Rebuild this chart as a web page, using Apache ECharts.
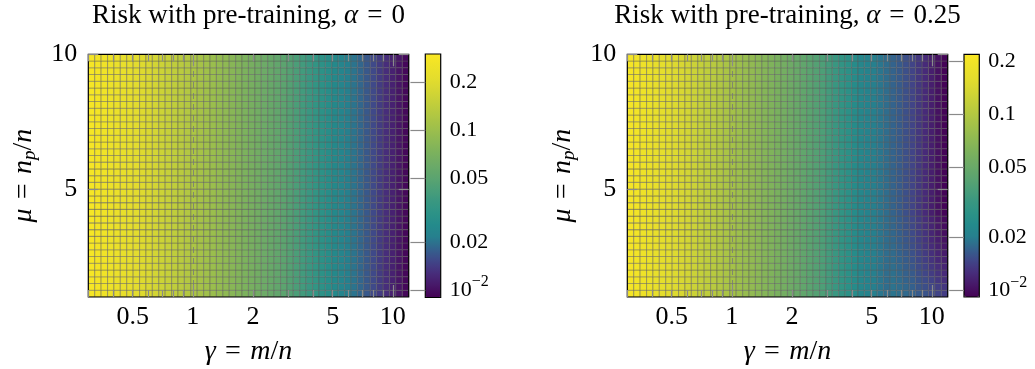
<!DOCTYPE html>
<html>
<head>
<meta charset="utf-8">
<script src="https://cdn.jsdelivr.net/npm/echarts@6/dist/echarts.min.js"></script>
<style>
  html, body { margin: 0; padding: 0; background: #fff; }
  #chart { width: 1035px; height: 369px; }
</style>
</head>
<body>
<div id="chart"></div>
<script>
// γ = m/n grid (log-spaced cell centres) and μ = n_p/n grid (cell centres)
const gammaValues = [0.3113, 0.3351, 0.3608, 0.3884, 0.4181, 0.4501, 0.4846, 0.5217, 0.5616, 0.6046,
  0.6509, 0.7007, 0.7544, 0.8121, 0.8743, 0.9413, 1.0133, 1.0909, 1.1745, 1.2644,
  1.3612, 1.4654, 1.5776, 1.6984, 1.8284, 1.9684, 2.1191, 2.2814, 2.4561, 2.6441,
  2.8466, 3.0645, 3.2992, 3.5518, 3.8237, 4.1165, 4.4317, 4.7710, 5.1363, 5.5296,
  5.9530, 6.4088, 6.8995, 7.4278, 7.9965, 8.6088, 9.2680, 9.9776, 10.742, 11.564];
const muValues = [1.125, 1.375, 1.625, 1.875, 2.125, 2.375, 2.625, 2.875, 3.125, 3.375,
  3.625, 3.875, 4.125, 4.375, 4.625, 4.875, 5.125, 5.375, 5.625, 5.875,
  6.125, 6.375, 6.625, 6.875, 7.125, 7.375, 7.625, 7.875, 8.125, 8.375,
  8.625, 8.875, 9.125, 9.375, 9.625, 9.875];

// Risk for α = 0, one value per γ column (identical for every μ row)
const riskAlpha0 = [0.285, 0.272, 0.260, 0.249, 0.238, 0.227, 0.217, 0.208, 0.198, 0.186,
  0.174, 0.163, 0.153, 0.143, 0.134, 0.126, 0.118, 0.111, 0.105, 0.0986,
  0.0929, 0.0875, 0.0824, 0.0776, 0.0731, 0.0689, 0.0649, 0.0611, 0.0576, 0.0542,
  0.0511, 0.0467, 0.0428, 0.0391, 0.0358, 0.0328, 0.0300, 0.0274, 0.0251, 0.0233,
  0.0217, 0.0201, 0.0185, 0.0170, 0.0155, 0.0141, 0.0128, 0.0116, 0.0105, 0.0095];

// Risk for α = 0.25, one value per γ column for the upper μ rows
const riskAlpha25 = [0.207, 0.197, 0.188, 0.179, 0.171, 0.163, 0.155, 0.148, 0.141, 0.133,
  0.125, 0.118, 0.111, 0.105, 0.0988, 0.0931, 0.0876, 0.0829, 0.0784, 0.0742,
  0.0702, 0.0664, 0.0628, 0.0594, 0.0562, 0.0527, 0.0495, 0.0464, 0.0435, 0.0409,
  0.0384, 0.0351, 0.0321, 0.0293, 0.0268, 0.0245, 0.0224, 0.0213, 0.0203, 0.0193,
  0.0183, 0.0174, 0.0165, 0.0156, 0.0146, 0.0135, 0.0124, 0.0113, 0.0103, 0.0094];

// α = 0.25: small-μ rows (μ = 1.125 … 3.875) where the large-γ risk rises; columns from index 41 on
const alpha25LowMuFirstColumn = 41;
const riskAlpha25LowMu = [
  [0.0191, 0.0185, 0.0179, 0.0174, 0.0166, 0.0159, 0.0152, 0.0146, 0.0139],
  [0.0189, 0.0183, 0.0177, 0.0171, 0.0162, 0.0155, 0.0148, 0.0141, 0.0134],
  [0.0187, 0.0181, 0.0174, 0.0168, 0.0159, 0.0152, 0.0144, 0.0135, 0.0128],
  [0.0186, 0.0179, 0.0172, 0.0165, 0.0156, 0.0148, 0.0139, 0.0131, 0.0124],
  [0.0184, 0.0177, 0.0169, 0.0162, 0.0152, 0.0144, 0.0135, 0.0127, 0.0119],
  [0.0182, 0.0175, 0.0167, 0.0159, 0.0150, 0.0141, 0.0131, 0.0122, 0.0115],
  [0.0181, 0.0173, 0.0165, 0.0157, 0.0148, 0.0138, 0.0128, 0.0119, 0.0111],
  [0.0180, 0.0172, 0.0163, 0.0155, 0.0145, 0.0135, 0.0125, 0.0116, 0.0107],
  [0.0178, 0.0170, 0.0162, 0.0153, 0.0143, 0.0133, 0.0122, 0.0113, 0.0104],
  [0.0177, 0.0169, 0.0160, 0.0151, 0.0141, 0.0131, 0.0120, 0.0110, 0.0101],
  [0.0176, 0.0168, 0.0159, 0.0150, 0.0139, 0.0129, 0.0119, 0.0109, 0.0100],
  [0.0176, 0.0167, 0.0158, 0.0149, 0.0138, 0.0127, 0.0117, 0.0107, 0.0098]
];

// Axis ticks and labels
const xTickLabels = [0.5, 1, 2, 5, 10];
const xMinorTicks = [0.3, 0.4, 0.5, 0.6, 0.7, 0.8, 0.9, 2, 3, 4, 5, 6, 7, 8, 9];
const xDecadeTicks = [1, 10];
const yTickLabels = [5, 10];
const colorbarTicks = [0.01, 0.02, 0.05, 0.1, 0.2];
const thresholdGamma = 1;

// Panel texts and colour ranges
const alphaLabels = ['0', '0.25'];
const colorbarRanges = [[0.009, 0.30], [0.0092, 0.22]];

// Colour map, bottom (low risk) to top (high risk)
const colormap = ['#440154', '#471868', '#472d7b', '#404688', '#33638d', '#26808e', '#248b8b',
  '#2d9386', '#3b9880', '#4d9f77', '#5ea56e', '#6eab66', '#7db25c', '#8fb953', '#a0c04a',
  '#b2c742', '#c3cf3a', '#d5d633', '#e4dd2d', '#eee228', '#fae724'];

const serif = '"Liberation Serif", "DejaVu Serif", serif';
const tickGrey = '#8a8a8a';
const tickFont = 26;
const eq = '\u2004=\u2004';

// cell boundaries from centres: geometric midpoints on the log axis, arithmetic on the linear one
function cellEdges(centres, geometric) {
  const n = centres.length;
  const mid = (a, b) => geometric ? Math.sqrt(a * b) : (a + b) / 2;
  const reflect = (c, m) => geometric ? c * c / m : 2 * c - m;
  const e = [];
  for (let i = 0; i <= n; i++) {
    if (i === 0) e.push(reflect(centres[0], mid(centres[0], centres[1])));
    else if (i === n) e.push(reflect(centres[n - 1], mid(centres[n - 2], centres[n - 1])));
    else e.push(mid(centres[i - 1], centres[i]));
  }
  return e;
}
const gammaEdges = cellEdges(gammaValues, true);
const muEdges = cellEdges(muValues, false);

function buildCells(riskAt) {
  const out = [];
  muValues.forEach((mu, r) => {
    gammaValues.forEach((g, c) => {
      const risk = riskAt(r, c);
      out.push([gammaEdges[c], gammaEdges[c + 1], muEdges[r], muEdges[r + 1], risk, Math.log10(risk)]);
    });
  });
  return out;
}
const cellsAlpha0 = buildCells((r, c) => riskAlpha0[c]);
const cellsAlpha25 = buildCells((r, c) => {
  const row = riskAlpha25LowMu[r];
  return (row && c >= alpha25LowMuFirstColumn) ? row[c - alpha25LowMuFirstColumn] : riskAlpha25[c];
});

// layout of the two panels (plot box and colour bar)
const panels = [
  { plot: { left: 88.3, top: 54.3, width: 320.4, height: 242.7 }, bar: { left: 425.3, top: 54, width: 15.4, height: 243.5 } },
  { plot: { left: 627.3, top: 54.3, width: 320.4, height: 242.7 }, bar: { left: 964, top: 54.3, width: 15.3, height: 242.7 } }
];

const fmt = v => String(+(+v).toPrecision(3));

const grid = [], xAxis = [], yAxis = [], series = [], visualMap = [], graphic = [];

panels.forEach(p => {
  grid.push(Object.assign({ show: true, z: 3, borderColor: '#000', borderWidth: 1.2, backgroundColor: 'transparent', containLabel: false, outerBoundsMode: 'none' }, p.plot));
});
panels.forEach(p => {
  grid.push(Object.assign({ show: true, z: 12, borderColor: '#000', borderWidth: 1.2, backgroundColor: 'transparent', containLabel: false, outerBoundsMode: 'none' }, p.bar));
});

panels.forEach((p, k) => {
  const base = { gridIndex: k, type: 'log', logBase: 10, min: 0.3, max: 12, z: 5,
    splitLine: { show: false }, axisLine: { show: false }, axisPointer: { show: false } };
  const minor = { show: true, inside: true, length: 7, customValues: xMinorTicks, lineStyle: { color: tickGrey, width: 1.2 } };
  const decade = { show: true, inside: true, length: 12, customValues: xDecadeTicks, lineStyle: { color: tickGrey, width: 1.2 } };
  xAxis.push(Object.assign({}, base, { position: 'bottom', axisTick: minor,
    axisLabel: { show: true, customValues: xTickLabels, margin: 7, color: '#000', fontFamily: serif, fontSize: tickFont, formatter: fmt } }));
  xAxis.push(Object.assign({}, base, { position: 'bottom', axisTick: decade, axisLabel: { show: false } }));
  xAxis.push(Object.assign({}, base, { position: 'top', axisTick: minor, axisLabel: { show: false } }));
  xAxis.push(Object.assign({}, base, { position: 'top', axisTick: decade, axisLabel: { show: false } }));

  const ybase = { gridIndex: k, type: 'value', min: 1, max: 10, z: 5,
    splitLine: { show: false }, axisLine: { show: false }, axisPointer: { show: false } };
  const yt = { show: true, inside: true, length: 10, customValues: yTickLabels, lineStyle: { color: tickGrey, width: 1.2 } };
  yAxis.push(Object.assign({}, ybase, { position: 'left', axisTick: yt,
    axisLabel: { show: true, customValues: yTickLabels, margin: 11, color: '#000', fontFamily: serif, fontSize: tickFont, formatter: fmt } }));
  yAxis.push(Object.assign({}, ybase, { position: 'right', axisTick: yt, axisLabel: { show: false } }));
});

panels.forEach((p, k) => {
  const [lo, hi] = colorbarRanges[k];
  xAxis.push({ gridIndex: 2 + k, type: 'value', show: false });
  yAxis.push({ gridIndex: 2 + k, type: 'log', logBase: 10, min: lo, max: hi, position: 'right', z: 13,
    splitLine: { show: false }, axisLine: { show: false },
    axisTick: { show: true, inside: true, length: p.bar.width - 0.5, customValues: colorbarTicks, lineStyle: { color: tickGrey, width: 1.2 } },
    axisLabel: { show: true, customValues: colorbarTicks, margin: 9, color: '#000', fontFamily: serif, fontSize: 22,
      formatter: v => { const r = fmt(v); return r === '0.01' ? '10{sup|−2}' : r; },
      rich: { sup: { fontFamily: serif, fontSize: 16, verticalAlign: 'top', lineHeight: 32, color: '#000' } } } });
});

[cellsAlpha0, cellsAlpha25].forEach((cells, k) => {
  series.push({
    type: 'custom',
    xAxisIndex: k * 4,
    yAxisIndex: k * 2,
    data: cells,
    clip: true,
    silent: true,
    encode: { x: [0, 1], y: [2, 3] },
    renderItem(params, api) {
      const a = api.coord([api.value(0), api.value(3)]);
      const b = api.coord([api.value(1), api.value(2)]);
      return {
        type: 'rect',
        shape: { x: a[0], y: a[1], width: b[0] - a[0], height: b[1] - a[1] },
        style: { fill: api.visual('color'), stroke: 'rgba(90,90,90,0.42)', lineWidth: 1.1 }
      };
    },
    markLine: {
      silent: true, symbol: 'none', label: { show: false },
      lineStyle: { color: 'rgba(120,120,120,0.8)', type: [6, 5], width: 1 },
      data: [{ xAxis: thresholdGamma }]
    }
  });
  const [lo, hi] = colorbarRanges[k];
  const bar = panels[k].bar;
  visualMap.push({
    type: 'continuous', seriesIndex: k, dimension: 5,
    min: Math.log10(lo), max: Math.log10(hi),
    inRange: { color: colormap },
    orient: 'vertical', left: bar.left, top: bar.top, padding: 0,
    itemWidth: bar.width, itemHeight: bar.height,
    calculable: false, hoverLink: false, realtime: false, showLabel: false, text: null
  });
});

function serifText(extra) {
  return Object.assign({ fill: '#000', fontFamily: serif, fontSize: 27, align: 'center', verticalAlign: 'middle',
    textAlign: 'center', textVerticalAlign: 'middle' }, extra);
}
const titleIt = { fontFamily: serif, fontSize: 27, fontStyle: 'italic', color: '#000' };
const titleRm = { fontFamily: serif, fontSize: 27, color: '#000' };
const it = { fontFamily: serif, fontSize: 28, fontStyle: 'italic', color: '#000', lineHeight: 32 };
const rm = { fontFamily: serif, fontSize: 28, color: '#000', lineHeight: 32 };

panels.forEach((p, k) => {
  const cx = p.plot.left + p.plot.width / 2;
  const cy = p.plot.top + p.plot.height / 2;
  graphic.push({ type: 'text', x: cx, y: 16, silent: true,
    style: serifText({ text: '{r|Risk with pre-training, }{i|α}{r|' + eq + alphaLabels[k] + '}', rich: { i: titleIt, r: titleRm } }) });
  graphic.push({ type: 'text', x: cx, y: 352, silent: true,
    style: serifText({ text: '{i|γ}{r|' + eq + '}{i|m}{r|/}{i|n}', rich: { i: it, r: rm } }) });
  graphic.push({ type: 'text', x: p.plot.left - 65, y: cy, rotation: Math.PI / 2, silent: true,
    style: serifText({ text: '{i|μ}{r|' + eq + '}{i|n}{s|p}{r|/}{i|n}',
      rich: { i: it, r: rm,
        s: { fontFamily: serif, fontSize: 19, fontStyle: 'italic', color: '#000', verticalAlign: 'bottom', lineHeight: 32 } } }) });
});

const chart = echarts.init(document.getElementById('chart'), null, { renderer: 'canvas' });
chart.setOption({
  animation: false,
  backgroundColor: '#fff',
  grid, xAxis, yAxis, series, visualMap, graphic
});
</script>
</body>
</html>
